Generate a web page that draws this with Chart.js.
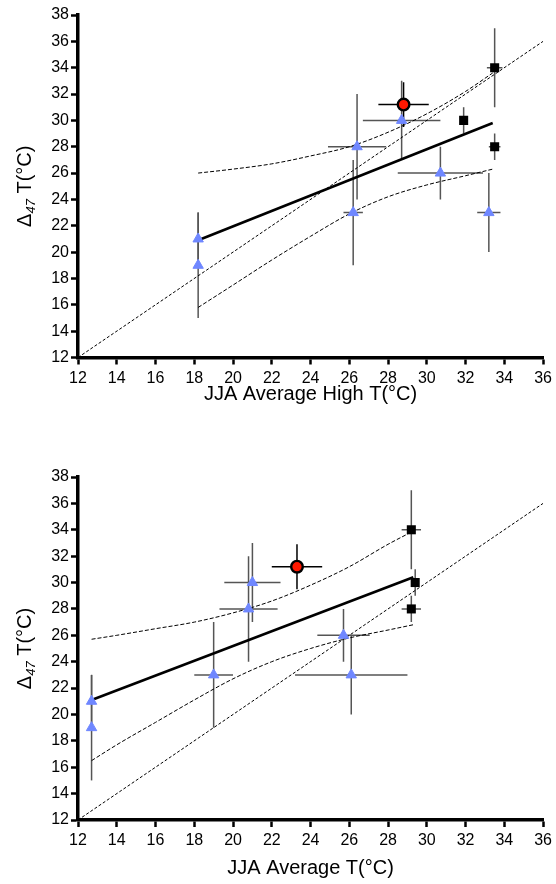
<!DOCTYPE html>
<html>
<head>
<meta charset="utf-8">
<script src="https://cdn.jsdelivr.net/npm/chart.js@4.4.1/dist/chart.umd.min.js"></script>
<style>
    html, body { margin: 0; padding: 0; background: #fff; }
    #topWrapper { position: absolute; left: 0; top: 0; width: 556px; height: 420px; }
    #bottomWrapper { position: absolute; left: 0; top: 420px; width: 556px; height: 464px; }
</style>
</head>
<body>
<div id="topWrapper"><canvas id="top" width="556" height="420"></canvas></div>
<div id="bottomWrapper"><canvas id="bottom" width="556" height="464"></canvas></div>
<script>
//-------------------------------------------------------- data
// Δ47 溫度 (兩張圖共用 y)
const triT = [21, 19, 23, 28, 30, 26, 23];
const triTErr = [2, 4, 4, 4, 3, 2, 3];
const sqT = [34, 30, 28];
const sqTErr = [3, 1, 1];
const redT = [31.2];
const redTErr = [1.7];

// 上圖 JJA Average High
const triHigh = [18.2, 18.2, 26.2, 26.4, 28.7, 30.7, 33.2];
const triHighErr = [0, 0, 0.5, 1.5, 2, 2.2, 0.6];
const sqHigh = [33.5, 31.9, 33.5];
const sqHighErr = [0.4, 0, 0.3];
const redHigh = [28.8];
const redHighErr = [1.3];
const fitHighX = [18.2, 33.4];
const fitHighY = [20.9, 29.8];
const bandHighX = [18.2, 20, 22, 24, 26, 28, 30, 32, 33.4];
const bandHighUp = [26.0, 26.3, 26.7, 27.3, 28.0, 29.1, 30.5, 32.2, 33.6];
const bandHighLo = [15.8, 17.5, 19.4, 21.2, 22.9, 24.2, 25.1, 25.8, 26.3];

// 下圖 JJA Average
const triAvg = [12.7, 12.7, 19.0, 20.8, 21.0, 25.7, 26.1];
const triAvgErr = [0, 0, 1, 1.5, 1.45, 1.35, 2.9];
const sqAvg = [29.2, 29.4, 29.2];
const sqAvgErr = [0.5, 0, 0.5];
const redAvg = [23.3];
const redAvgErr = [1.3];
const fitAvgX = [12.7, 29.3];
const fitAvgY = [21.1, 30.4];
const bandAvgX = [12.7, 14, 16, 18, 20, 22, 24, 26, 28, 29.3];
const bandAvgUp = [25.7, 26.0, 26.5, 27.0, 27.7, 28.6, 29.8, 31.2, 32.9, 33.9];
const bandAvgLo = [16.5, 17.7, 19.4, 21.1, 22.7, 24.0, 25.0, 25.8, 26.4, 26.8];

// 1:1 線 & 刻度
const oneToOne = [12, 36];
const xTicks = [12, 14, 16, 18, 20, 22, 24, 26, 28, 30, 32, 34, 36];
const yTicks = [12, 14, 16, 18, 20, 22, 24, 26, 28, 30, 32, 34, 36, 38];

Chart.defaults.font.family = '"Liberation Sans", Arial, sans-serif';
Chart.defaults.color = '#000';

function pts(xs, ys) {
    return xs.map((x, i) => ({ x: x, y: ys[i] }));
}

//-------------------------------------------------------- error bars (畫在點的下面)
const errorBars = {
    id: 'errorBars',
    beforeDatasetsDraw(chart) {
        const ctx = chart.ctx;
        const xs = chart.scales.x, ys = chart.scales.y;
        ctx.save();
        chart.data.datasets.forEach(ds => {
            if (!ds.errX) return;
            ctx.strokeStyle = ds.errColor;
            ctx.lineWidth = 1.5;
            ds.data.forEach((p, i) => {
                const px = xs.getPixelForValue(p.x);
                const py = ys.getPixelForValue(p.y);
                ctx.beginPath();
                if (ds.errX[i]) {
                    ctx.moveTo(xs.getPixelForValue(p.x - ds.errX[i]), py);
                    ctx.lineTo(xs.getPixelForValue(p.x + ds.errX[i]), py);
                }
                if (ds.errY[i]) {
                    ctx.moveTo(px, ys.getPixelForValue(p.y - ds.errY[i]));
                    ctx.lineTo(px, ys.getPixelForValue(p.y + ds.errY[i]));
                }
                ctx.stroke();
            });
        });
        ctx.restore();
    }
};

//-------------------------------------------------------- y 軸標題 Δ47 T(°C)
const yTitle = {
    id: 'yTitle',
    afterDraw(chart) {
        const ctx = chart.ctx;
        const area = chart.chartArea;
        const big = '20px "Liberation Sans", Arial, sans-serif';
        const small = 'italic 13px "Liberation Sans", Arial, sans-serif';
        ctx.save();
        ctx.translate(25, (area.top + area.bottom) / 2);
        ctx.rotate(-Math.PI / 2);
        ctx.font = big;
        const w1 = ctx.measureText('Δ').width;
        const w3 = ctx.measureText(' T(°C)').width;
        ctx.font = small;
        const w2 = ctx.measureText('47').width;
        let x0 = -(w1 + w2 + w3) / 2;
        ctx.fillStyle = '#000';
        ctx.textBaseline = 'middle';
        ctx.font = big;
        ctx.fillText('Δ', x0, 0);
        ctx.font = small;
        ctx.fillText('47', x0 + w1, 6);
        ctx.font = big;
        ctx.fillText(' T(°C)', x0 + w1 + w2, 0);
        ctx.restore();
    }
};

function axis(ticks, min, max, fitSize, horizontal, title) {
    const a = {
        type: 'linear',
        min: min,
        max: max,
        afterBuildTicks: scale => { scale.ticks = ticks.map(v => ({ value: v })); },
        afterFit: scale => {
            if (horizontal) scale.height = fitSize; else scale.width = fitSize;
        },
        border: { display: true, color: '#000', width: 3.5 },
        grid: {
            drawOnChartArea: false,
            drawTicks: true,
            tickLength: 7,
            tickWidth: 2.5,
            tickColor: '#000',
            color: '#000'
        },
        ticks: {
            autoSkip: false,
            maxRotation: 0,
            color: '#000',
            padding: horizontal ? 4 : 2,
            font: { size: 16 }
        }
    };
    if (title) a.title = title;
    return a;
}

function makeChart(id, d) {
    new Chart(document.getElementById(id), {
        type: 'scatter',
        data: {
            datasets: [
                {
                    data: pts(d.redX, redT),
                    errX: d.redXErr, errY: redTErr, errColor: '#000',
                    pointStyle: 'circle', pointRadius: 5.8,
                    backgroundColor: '#ff1800', borderColor: '#000', borderWidth: 2.4
                },
                {
                    data: pts(d.sqX, sqT),
                    errX: d.sqXErr, errY: sqTErr, errColor: '#555',
                    pointStyle: 'rect', pointRadius: 6.4,
                    backgroundColor: '#000', borderColor: '#000', borderWidth: 0
                },
                {
                    data: pts(d.triX, triT),
                    errX: d.triXErr, errY: triTErr, errColor: '#555',
                    pointStyle: 'triangle', pointRadius: 6,
                    backgroundColor: '#6f87ff', borderColor: '#6f87ff', borderWidth: 1
                },
                {
                    data: pts(d.fitX, d.fitY),
                    showLine: true, pointRadius: 0,
                    borderColor: '#000', borderWidth: 2.6
                },
                {
                    data: pts(d.bandX, d.bandUp),
                    showLine: true, pointRadius: 0, cubicInterpolationMode: 'monotone',
                    borderColor: '#000', borderWidth: 1, borderDash: [4, 2]
                },
                {
                    data: pts(d.bandX, d.bandLo),
                    showLine: true, pointRadius: 0, cubicInterpolationMode: 'monotone',
                    borderColor: '#000', borderWidth: 1, borderDash: [4, 2]
                },
                {
                    data: pts(oneToOne, oneToOne),
                    showLine: true, pointRadius: 0,
                    borderColor: '#000', borderWidth: 1, borderDash: [3, 2]
                }
            ]
        },
        options: {
            responsive: false,
            animation: false,
            layout: { padding: { top: d.padTop, right: 10, left: 0, bottom: 0 } },
            plugins: {
                legend: { display: false },
                tooltip: { enabled: false }
            },
            scales: {
                x: axis(xTicks, 12, 36, d.xHeight, true, {
                    display: true,
                    text: d.xTitle,
                    color: '#000',
                    font: { size: 20 },
                    padding: { top: 0, bottom: d.titlePad }
                }),
                y: axis(yTicks, 12, 38, 78, false)
            }
        },
        plugins: [errorBars, yTitle]
    });
}

//-------------------------------------------------------- 上 JJA Average High
makeChart('top', {
    redX: redHigh, redXErr: redHighErr,
    sqX: sqHigh, sqXErr: sqHighErr,
    triX: triHigh, triXErr: triHighErr,
    fitX: fitHighX, fitY: fitHighY,
    bandX: bandHighX, bandUp: bandHighUp, bandLo: bandHighLo,
    xTitle: 'JJA Average High T(°C)',
    padTop: 15, xHeight: 62.5, titlePad: 14
});

//-------------------------------------------------------- 下 JJA Average
makeChart('bottom', {
    redX: redAvg, redXErr: redAvgErr,
    sqX: sqAvg, sqXErr: sqAvgErr,
    triX: triAvg, triXErr: triAvgErr,
    fitX: fitAvgX, fitY: fitAvgY,
    bandX: bandAvgX, bandUp: bandAvgUp, bandLo: bandAvgLo,
    xTitle: 'JJA Average T(°C)',
    padTop: 57, xHeight: 64, titlePad: 4
});
</script>
</body>
</html>
